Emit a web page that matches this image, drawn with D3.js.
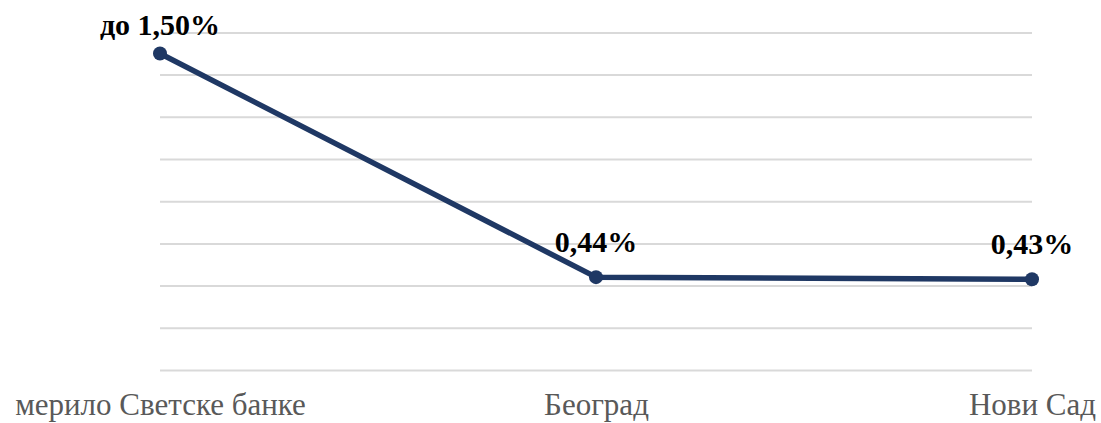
<!DOCTYPE html>
<html>
<head>
<meta charset="utf-8">
<script src="https://cdn.jsdelivr.net/npm/d3@7"></script>
<style>
html,body{margin:0;padding:0;background:#fff;}
svg{display:block;}
</style>
</head>
<body>
<svg id="chart" width="1101" height="423"></svg>
<script>
const categories = ["мерило Светске банке", "Београд", "Нови Сад"];
const values = [1.50, 0.44, 0.43];
const valueLabels = ["до 1,50%", "0,44%", "0,43%"];
const yTicks = [0, 0.2, 0.4, 0.6, 0.8, 1.0, 1.2, 1.4, 1.6];

const svg = d3.select("#chart");
const x = d3.scalePoint().domain(categories).range([160, 1032]);
const y = d3.scaleLinear().domain([0, 1.6]).range([370, 32.4]);

// gridlines
const yAxis = d3.axisLeft(y).tickValues(yTicks).tickSize(-872).tickFormat("");
const gy = svg.append("g").attr("transform", "translate(160,0)").call(yAxis);
gy.select(".domain").remove();
gy.selectAll(".tick line").attr("stroke", "#d9d9d9").attr("stroke-width", 2);

// x axis labels
const xAxis = d3.axisBottom(x).tickSize(0).tickPadding(0);
const gx = svg.append("g").attr("transform", "translate(0,400)").call(xAxis);
gx.select(".domain").remove();
gx.selectAll(".tick text")
  .attr("font-family", "'Liberation Serif', 'Times New Roman', serif")
  .attr("font-size", 31)
  .attr("fill", "#595959")
  .attr("dy", null)
  .attr("y", 15);

const data = categories.map((c, i) => ({c, v: values[i], l: valueLabels[i]}));

const line = d3.line().x(d => x(d.c)).y(d => y(d.v));
svg.append("path").datum(data)
  .attr("d", line)
  .attr("fill", "none")
  .attr("stroke", "#1f3864")
  .attr("stroke-width", 5.5)
  .attr("stroke-linejoin", "round");

svg.selectAll("circle.pt").data(data).enter().append("circle")
  .attr("class", "pt")
  .attr("cx", d => x(d.c)).attr("cy", d => y(d.v)).attr("r", 7)
  .attr("fill", "#1f3864");

svg.selectAll("text.lbl").data(data).enter().append("text")
  .attr("class", "lbl")
  .attr("x", d => x(d.c))
  .attr("y", d => Math.max(35, y(d.v) - 25))
  .attr("text-anchor", "middle")
  .attr("font-family", "'Liberation Serif', 'Times New Roman', serif")
  .attr("font-weight", "bold")
  .attr("font-size", 30)
  .attr("fill", "#000")
  .text(d => d.l);
</script>
</body>
</html>
